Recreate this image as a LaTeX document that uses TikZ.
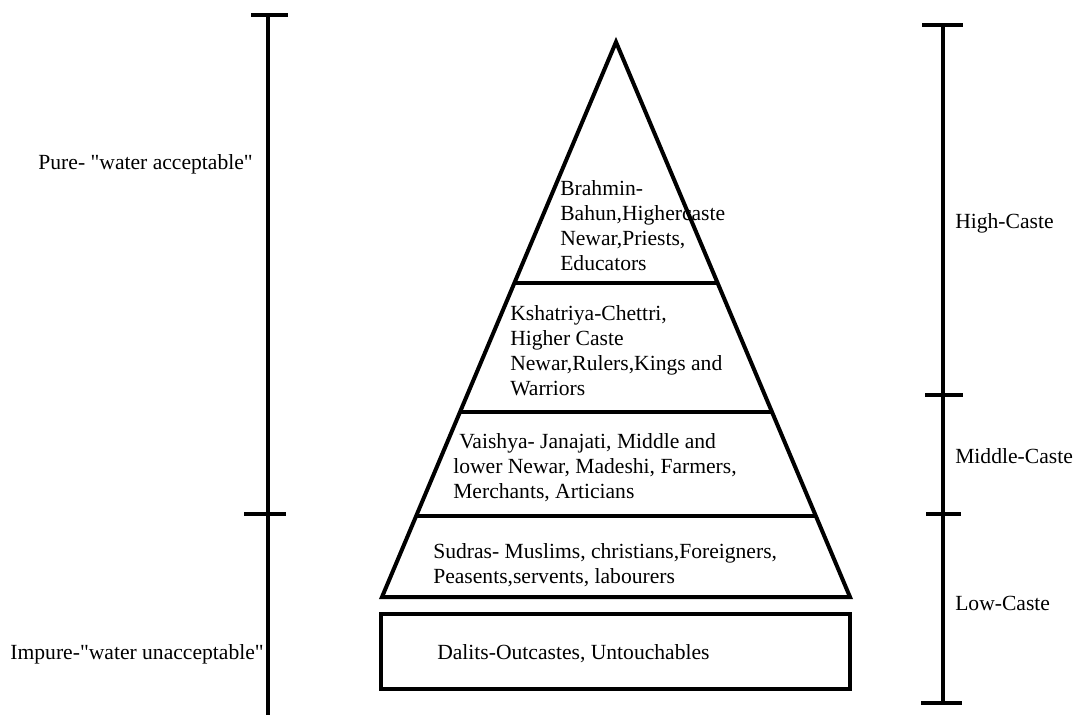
\documentclass[tikz,border=0pt]{standalone}
\usepackage{fontspec}
\setmainfont{Liberation Serif}[Ligatures=TeXOff]
\usetikzlibrary{calc}
\begin{document}
\begin{tikzpicture}[x=0.75pt,y=-0.75pt,
  bar/.style={line width=3pt},
  lbl/.style={font=\fontsize{16.2}{18.75}\selectfont, inner sep=0pt, align=left, anchor=west}]
\useasboundingbox (0,0) rectangle (1079,715);
% left axis
\coordinate (lt) at (268,15);
\coordinate (lb) at (268,715);
\draw[bar] (lt) -- (lb);
\draw[bar] (251,15) -- (288,15);
\draw[bar] (244,514) -- (286,514);
\node[lbl, anchor=east] (pure) at (253,164) {Pure- "water acceptable"};
\node[lbl, anchor=east] (impure) at (264,654) {Impure-"water unacceptable"};
% right axis
\coordinate (rt) at (943,25);
\coordinate (rb) at (943,703);
\draw[bar] (rt) -- (rb);
\draw[bar] (922,25) -- (963,25);
\draw[bar] (925,395) -- (963,395);
\draw[bar] (926,514) -- (961,514);
\draw[bar] (921,703) -- (962,703);
\node[lbl] (high) at (955,223) {High-Caste};
\node[lbl] (middle) at (955,456) {Middle-Caste};
\node[lbl] (low) at (955,603) {Low-Caste};
% pyramid
\coordinate (apex) at (616,42);
\coordinate (bl) at (382,597);
\coordinate (br) at (850,597);
\draw[bar, line join=miter] (bl) -- (apex) -- (br) -- cycle;
\draw[bar] ($(apex)!0.4342!(bl)$) -- ($(apex)!0.4342!(br)$);
\draw[bar] ($(apex)!0.6667!(bl)$) -- ($(apex)!0.6667!(br)$);
\draw[bar] ($(apex)!0.8541!(bl)$) -- ($(apex)!0.8541!(br)$);
\draw[bar] (381,614) rectangle (850,689);
\node[lbl] (brahmin) at (560,225.5) {Brahmin-\\Bahun,Highercaste\\Newar,Priests,\\Educators};
\node[lbl] (kshatriya) at (510,350.5) {Kshatriya-Chettri,\\Higher Caste\\Newar,Rulers,Kings and\\Warriors};
\node[lbl] (vaishya) at (453,467.5) {\hspace*{4.5pt}Vaishya- Janajati, Middle and\\lower Newar, Madeshi, Farmers,\\Merchants, Articians};
\node[lbl] (sudras) at (433,565) {Sudras- Muslims, christians,Foreigners,\\Peasents,servents, labourers};
\node[lbl] (dalits) at (437,654) {Dalits-Outcastes, Untouchables};
\end{tikzpicture}
\end{document}
